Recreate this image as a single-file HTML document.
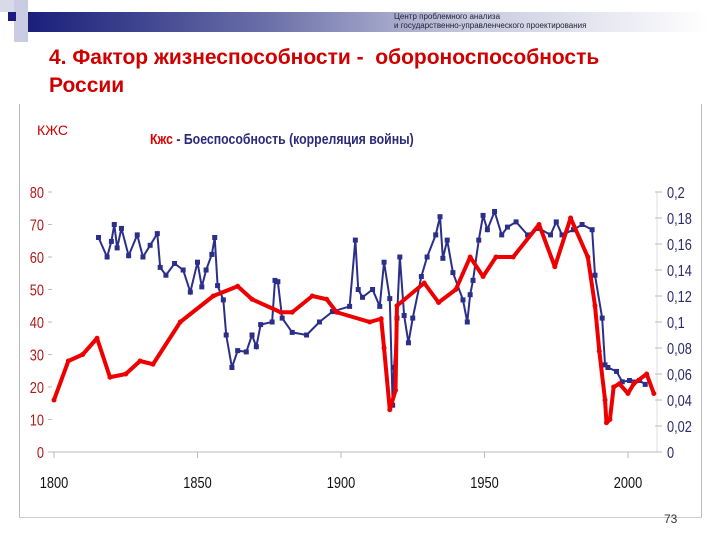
<!DOCTYPE html>
<html><head><meta charset="utf-8"><style>
html,body{margin:0;padding:0;background:#fff;}
body{width:720px;height:540px;position:relative;overflow:hidden;font-family:"Liberation Sans",sans-serif;}
</style></head><body>
<div style="position:absolute;left:28px;top:12px;width:680px;height:20px;background:linear-gradient(90deg,#1a1f7a 0%,#6a6fa8 35%,#c8cadf 65%,#fff 100%);"></div>
<div style="position:absolute;left:0;top:0;width:28px;height:12px;background:#d8daea;"></div>
<div style="position:absolute;left:14px;top:0;width:14px;height:42px;background:#c9cce2;"></div>
<div style="position:absolute;left:8px;top:12px;width:8px;height:9px;background:#1a1a80;"></div>
<div style="position:absolute;left:394px;top:12px;font-size:8px;line-height:9px;color:#223;">Центр проблемного анализа<br>и государственно-управленческого проектирования</div>
<div style="position:absolute;left:49px;top:44px;font-size:21px;font-weight:bold;color:#d00000;line-height:28px;">4. Фактор жизнеспособности -&nbsp; обороноспособность<br>России</div>
<div style="position:absolute;left:19px;top:104px;width:681px;height:413px;border-left:1px solid #bbb;border-right:1px solid #bbb;border-bottom:1px solid #ccc;"></div>
<div style="position:absolute;left:37px;top:122px;font-size:14px;color:#c00;">КЖС</div>
<div style="position:absolute;left:150px;top:131px;font-size:15px;font-weight:bold;color:#2a2a7a;transform:scaleX(0.82);transform-origin:left;"><span style="color:#d00">Кжс</span> - Боеспособность (корреляция войны)</div>
<div style="position:absolute;left:664px;top:512px;font-size:12px;color:#333;">73</div>
<svg id="chart" width="720" height="540" style="position:absolute;left:0;top:0;"></svg>
<script>
const redYears=[1800,1805,1810,1815,1819.5,1825,1830,1834.5,1844,1855.5,1864,1869,1879,1883,1890,1895,1898.5,1910,1914,1915,1917,1919,1919.5,1929,1934,1940,1945,1949.5,1954,1960,1969,1974.5,1980,1986,1988.5,1990,1992,1992.5,1993.7,1995,1997,2000,2002,2006.5,2009];
const redValues=[16,28,30,35,23,24,28,27,40,48,51,47,43,43,48,47,43,40,41,32,13,19,45,52,46,50,60,54,60,60,70,57,72,60,45,31,16,9,10,20,21,18,21,24,18];
const blueYears=[1815.5,1818.5,1820,1821,1822,1823.5,1826,1829,1831,1833.5,1836,1837,1839,1842,1845,1847.5,1850,1851.5,1853,1855,1856,1857,1859,1860,1862,1864,1867,1869,1870.5,1872,1876,1877,1878,1879.5,1883,1888,1892.5,1897,1903,1905,1906,1907.5,1911,1913.5,1915,1917,1918,1918.5,1919.5,1920.5,1922,1923.5,1925,1928,1930,1933,1934.5,1935.5,1937,1939,1942.5,1944,1945,1946,1948,1949.5,1951,1953.5,1956,1958,1961,1965,1969,1973,1975,1977,1981,1984,1987.5,1988.5,1991,1992,1993,1996,1998,2000.5,2004,2006];
const blueValues=[0.165,0.15,0.162,0.175,0.157,0.172,0.151,0.167,0.15,0.159,0.168,0.142,0.136,0.145,0.14,0.123,0.146,0.127,0.14,0.152,0.165,0.128,0.117,0.09,0.065,0.078,0.077,0.09,0.081,0.098,0.1,0.132,0.131,0.103,0.092,0.09,0.1,0.108,0.112,0.163,0.125,0.119,0.125,0.112,0.146,0.118,0.036,0.065,0.103,0.15,0.105,0.084,0.103,0.135,0.15,0.167,0.181,0.149,0.163,0.138,0.117,0.1,0.121,0.132,0.163,0.182,0.171,0.185,0.167,0.173,0.177,0.167,0.172,0.167,0.177,0.167,0.171,0.175,0.171,0.136,0.103,0.067,0.065,0.062,0.054,0.055,0.055,0.052];
const leftTicks=[0,10,20,30,40,50,60,70,80];
const rightTicks=["0","0,02","0,04","0,06","0,08","0,1","0,12","0,14","0,16","0,18","0,2"];
const xTicks=[1800,1850,1900,1950,2000];
const NS="http://www.w3.org/2000/svg";
const svg=document.getElementById('chart');
const X=y=>54+(y-1800)*2.87;
const YL=v=>452-v*3.25;
const YR=v=>452-v*1300;
function mk(t,a){const e=document.createElementNS(NS,t);for(const k in a)e.setAttribute(k,a[k]);svg.appendChild(e);return e;}
const base=mk('line',{x1:50,y1:452,x2:657,y2:452,stroke:'#bbb','stroke-width':1});


const ra=mk('line',{x1:657,y1:192,x2:657,y2:452,stroke:'#ddd','stroke-width':1});


leftTicks.forEach(v=>{
  const t=mk('text',{x:44,y:YL(v)+6,'text-anchor':'end','font-size':16,fill:'#b01818',transform:`translate(44 0) scale(0.8 1) translate(-44 0)`});
  t.textContent=v;
  
  
  const l=mk('line',{x1:48,y1:YL(v),x2:52,y2:YL(v),stroke:'#bbb'});
  
  
});
rightTicks.forEach((s,i)=>{
  const v=i*0.02;
  const t=mk('text',{x:667,y:YR(v)+6,'font-size':16,fill:'#2a2a6a',transform:`translate(667 0) scale(0.8 1) translate(-667 0)`});
  t.textContent=s;
  
  
  const l=mk('line',{x1:655,y1:YR(v),x2:662,y2:YR(v),stroke:'#bbb'});
  
  
});
xTicks.forEach(y=>{
  const t=mk('text',{x:X(y),y:488,'text-anchor':'middle','font-size':16,fill:'#111',transform:`translate(${X(y)} 0) scale(0.8 1) translate(${-X(y)} 0)`});
  t.textContent=y;
  
  
  const l=mk('line',{x1:X(y),y1:452,x2:X(y),y2:458,stroke:'#bbb'});
  
  
});
const bp=mk('polyline',{points:blueYears.map((y,i)=>X(y)+','+YR(blueValues[i])).join(' '),fill:'none',stroke:'#2b2f8a','stroke-width':2});


blueYears.forEach((y,i)=>{
  const r=mk('rect',{x:X(y)-2.5,y:YR(blueValues[i])-2.5,width:5,height:5,fill:'#2b2f8a'});
  
  
});
const rp=mk('polyline',{points:redYears.map((y,i)=>X(y)+','+YL(redValues[i])).join(' '),fill:'none',stroke:'#ee0000','stroke-width':4,'stroke-linejoin':'round'});


redYears.forEach((y,i)=>{
  const c=mk('circle',{cx:X(y),cy:YL(redValues[i]),r:2.5,fill:'#ee0000'});
  
  
});
</script>
</body></html>
